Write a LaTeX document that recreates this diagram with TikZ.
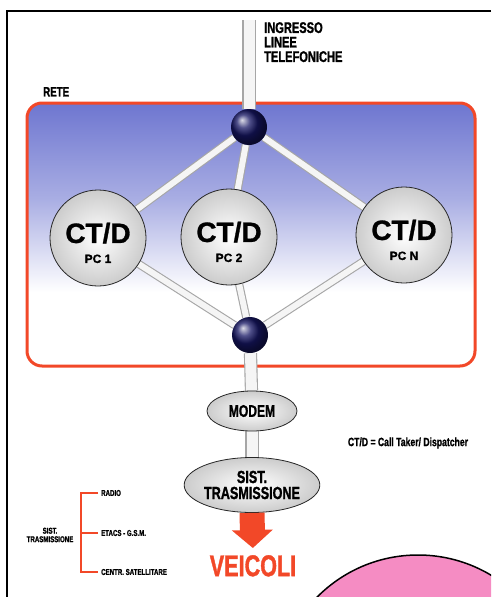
\documentclass[tikz,border=0pt]{standalone}
\usepackage{fontspec}
\setmainfont{Liberation Sans}
\newfontfamily\cond{Liberation Sans Bold}[FakeStretch=0.72,FakeBold=1.2]
\newfontfamily\ctfont{Liberation Sans Bold}[FakeBold=1]
\usetikzlibrary{shapes.geometric,arrows.meta}
\definecolor{rblue}{RGB}{110,118,208}
\definecolor{rred}{RGB}{242,72,40}
\definecolor{navyball}{RGB}{22,22,100}
\definecolor{pinkc}{RGB}{245,140,195}
\pgfdeclarelayer{bg}\pgfdeclarelayer{pipes}\pgfsetlayers{bg,pipes,main}
\begin{document}
\begin{tikzpicture}[x=1pt,y=-1pt,
  pipe/.style={draw=gray!70, line width=1.1pt, double=gray!8, double distance=6pt},
  bigpipe/.style={draw=gray!70, line width=1.1pt, double=gray!8, double distance=11pt},
  ball/.style={circle, minimum size=36pt, inner sep=0, ball color=navyball},
  ctd/.style={circle, draw=black!85, line width=0.8pt, minimum size=96pt, inner sep=0,
    inner color=white, outer color=gray!40, align=center,
    font=\ctfont\fontsize{12}{20}\selectfont},
  oval/.style={ellipse, draw=black!85, line width=0.8pt, inner sep=0,
    inner color=white, outer color=gray!40, align=center},
  lbl/.style={inner sep=0, font=\cond},
  bracket/.style={draw=rred, line width=1.8pt},
  redarrow/.style={draw=rred, line width=25pt, -{Triangle[width=40pt,length=18pt]}}
]
\useasboundingbox (0,0) rectangle (491,597);
\clip (0,0) rectangle (491,597);

% frame
\draw[line width=1.5pt] (491,11) -- (7,11) -- (7,597);

% rete box
\begin{pgfonlayer}{bg}
  \fill[white, rounded corners=15pt] (27,103) rectangle (475,366);
  \begin{scope}
    \clip[rounded corners=15pt] (27,103) rectangle (475,366);
    \shade[top color=rblue, bottom color=white, middle color=rblue!60] (27,103) rectangle (475,292);
  \end{scope}
  \draw[draw=rred, line width=3pt, rounded corners=15pt] (27,103) rectangle (475,366);
\end{pgfonlayer}

% texts
\node[lbl, anchor=north west, align=left, font=\cond\fontsize{15.4}{14.5}\selectfont] (ingresso) at (264,22) {INGRESSO\\LINEE\\TELEFONICHE};
\node[lbl, anchor=north west, font=\cond\fontsize{13.5}{14}\selectfont] (rete) at (43,87) {RETE};

% balls and CT/D
\coordinate (ingr) at (249,20);
\node[ball] (top) at (249,127) {};
\node[ball] (bot) at (250,335) {};
\node[ctd] (pc1) at (98,238) {{\fontsize{28}{20}\selectfont\rule{0pt}{30pt}CT/D}\\PC 1};
\node[ctd] (pc2) at (229,237) {{\fontsize{28}{20}\selectfont\rule{0pt}{30pt}CT/D}\\PC 2};
\node[ctd] (pcn) at (404,235) {{\fontsize{28}{20}\selectfont\rule{0pt}{30pt}CT/D}\\PC N};

% modem etc
\node[oval, minimum width=90pt, minimum height=40pt, font=\cond\fontsize{16.8}{16}\selectfont] (modem) at (252,411) {MODEM};
\node[oval, minimum width=107pt, minimum height=55pt, font=\cond\fontsize{17.5}{16}\selectfont] (sist) at (252,485) {SIST.\\TRASMISSIONE};
\node[lbl, anchor=north, text=rred, font=\cond\fontsize{30}{30}\selectfont] (veicoli) at (253,555) {VEICOLI};

% pipes
\begin{pgfonlayer}{pipes}
  \draw[bigpipe] (ingr) -- (top);
  \draw[pipe] (top) -- (pc1);
  \draw[pipe] (top) -- (pc2);
  \draw[pipe] (top) -- (pcn);
  \draw[pipe] (pc1) -- (bot);
  \draw[pipe] (pc2) -- (bot);
  \draw[pipe] (pcn) -- (bot);
  \draw[bigpipe] (bot) -- (modem);
  \draw[bigpipe] (modem) -- (sist);
\end{pgfonlayer}

\draw[redarrow, shorten >=7pt] (sist.south) -- (veicoli.north);

% legend
\node[lbl, font=\cond\fontsize{12}{12}\selectfont] (legend) at (408,443) {CT/D = Call Taker/ Dispatcher};

% bracket list
\node[lbl, anchor=west, font=\cond\fontsize{8.5}{9}\selectfont] (radio) at (101,493) {RADIO};
\node[lbl, anchor=west, font=\cond\fontsize{8.5}{9}\selectfont] (etacs) at (101,533) {ETACS - G.S.M.};
\node[lbl, anchor=west, font=\cond\fontsize{8.5}{9}\selectfont] (centr) at (101,572) {CENTR. SATELLITARE};
\node[lbl, align=center, font=\cond\fontsize{8.5}{8.5}\selectfont] (sistl) at (50,535) {SIST.\\TRASMISSIONE};
\draw[bracket] (radio.west) ++(-3,0) coordinate (r0) -- ++(-17,0) coordinate (bt) |- ([xshift=-3pt]centr.west);
\draw[bracket] (bt |- etacs.west) -- ([xshift=-3pt]etacs.west);

% pink circle
\draw[fill=pinkc, line width=1.5pt] (418,697) circle[radius=142];
\end{tikzpicture}
\end{document}
